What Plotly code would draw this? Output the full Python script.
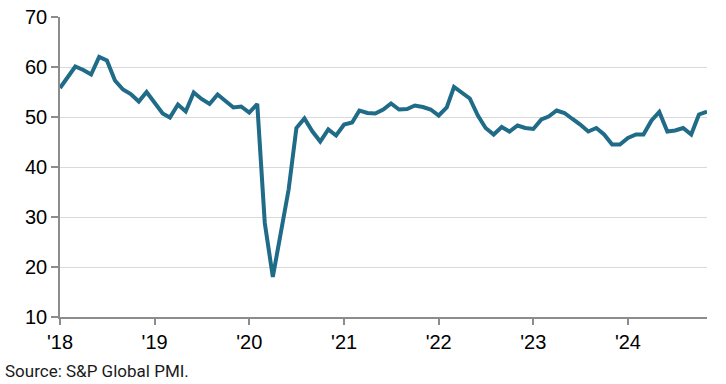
import pandas as pd
import plotly.graph_objects as go

# Monthly PMI values, Jan 2018 - Nov 2024
pmi_values = [
    55.8, 58.0, 60.1, 59.4, 58.5, 62.0, 61.3, 57.3, 55.5, 54.6, 53.1, 55.0,   # 2018
    52.7, 50.7, 49.9, 52.5, 51.1, 54.9, 53.6, 52.6, 54.5, 53.1, 51.9, 52.1,   # 2019
    50.9, 52.6, 28.8, 18.0, 26.8, 35.5, 47.8, 49.7, 47.1, 45.1, 47.5, 46.3,   # 2020
    48.5, 48.9, 51.3, 50.8, 50.7, 51.5, 52.7, 51.5, 51.6, 52.3, 52.0, 51.5,   # 2021
    50.3, 51.9, 56.0, 54.9, 53.7, 50.3, 47.8, 46.5, 48.0, 47.1, 48.3, 47.8,   # 2022
    47.6, 49.5, 50.1, 51.3, 50.8, 49.6, 48.5, 47.1, 47.8, 46.5, 44.5, 44.5,   # 2023
    45.8, 46.5, 46.5, 49.3, 51.0, 47.1, 47.3, 47.8, 46.5, 50.5, 51.1,         # 2024
]
months = pd.date_range("2018-01-01", periods=len(pmi_values), freq="MS")

x_tick_dates = ["2018-01-01", "2019-01-01", "2020-01-01", "2021-01-01",
                "2022-01-01", "2023-01-01", "2024-01-01"]
x_tick_labels = ["'18", "'19", "'20", "'21", "'22", "'23", "'24"]
y_tick_values = [10, 20, 30, 40, 50, 60, 70]
source_text = "Source: S&P Global PMI."

fig = go.Figure()
fig.add_trace(go.Scatter(
    x=months, y=pmi_values, mode="lines",
    line=dict(color="#1f6b88", width=4),
    hoverinfo="skip", showlegend=False,
))

axis_font = dict(family="Liberation Sans, Arial, sans-serif", size=20, color="#000000")

fig.update_layout(
    width=726, height=384,
    margin=dict(l=60, r=19, t=17, b=67, autoexpand=False),
    paper_bgcolor="white", plot_bgcolor="white",
    xaxis=dict(
        type="date", automargin=False,
        range=[months[0], months[-1]],
        tickvals=x_tick_dates, ticktext=x_tick_labels,
        showgrid=False, zeroline=False,
        showline=True, linecolor="#8c8c8c", linewidth=1.5,
        ticks="outside", ticklen=6, tickwidth=1.5, tickcolor="#8c8c8c",
        tickfont=axis_font, ticklabeloverflow="allow",
    ),
    yaxis=dict(
        range=[10, 70], automargin=False,
        tickvals=y_tick_values,
        showgrid=True, gridcolor="#d9d9d9", gridwidth=1.2,
        zeroline=False,
        showline=True, linecolor="#8c8c8c", linewidth=1.5,
        ticks="outside", ticklen=7, tickwidth=1.5, tickcolor="#8c8c8c",
        tickfont=axis_font, ticklabeloverflow="allow",
    ),
    annotations=[dict(
        text=source_text, xref="paper", yref="paper",
        x=-57 / 647, y=0, xanchor="left", yanchor="top",
        yshift=-42, showarrow=False,
        font=dict(family="Roboto, Liberation Sans, sans-serif", size=17, color="#1a1a1a"),
    )],
)

fig.write_html(
    "out.html",
    config={"displayModeBar": False},
    post_script="document.body.style.margin='0';document.body.style.overflow='hidden';",
)
